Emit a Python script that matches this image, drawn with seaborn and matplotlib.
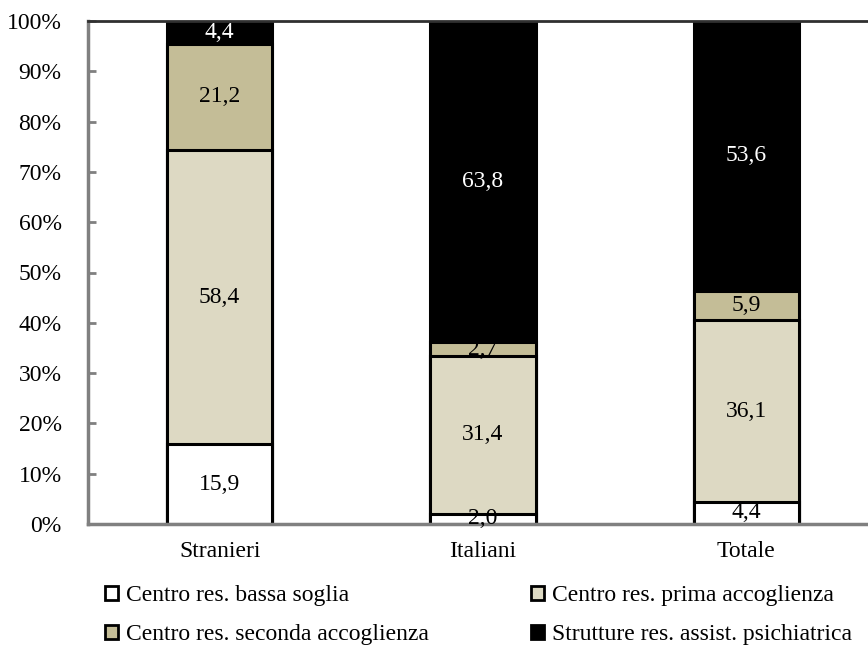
import numpy as np
import pandas as pd
import matplotlib.pyplot as plt
import seaborn as sns
from matplotlib.patches import Patch

# Values (percent shares)
groups = ["Stranieri", "Italiani", "Totale"]
series = [
    "Centro res. bassa soglia",
    "Centro res. prima accoglienza",
    "Centro res. seconda accoglienza",
    "Strutture res. assist. psichiatrica",
]
bassa_soglia = [15.9, 2.0, 4.4]
prima_accoglienza = [58.4, 31.4, 36.1]
seconda_accoglienza = [21.2, 2.7, 5.9]
psichiatrica = [4.4, 63.8, 53.6]
colors = ["#FFFFFF", "#DDD9C3", "#C4BD97", "#000000"]
text_colors = ["black", "black", "black", "white"]

sns.set_style("white")
plt.rcParams["font.family"] = ["Liberation Serif", "DejaVu Serif"]
plt.rcParams["text.color"] = "black"
plt.rcParams["xtick.color"] = "black"
plt.rcParams["ytick.color"] = "black"

df = pd.DataFrame({
    "group": groups,
    series[0]: bassa_soglia,
    series[1]: prima_accoglienza,
    series[2]: seconda_accoglienza,
    series[3]: psichiatrica,
})
values = df[series].to_numpy()
cum = values.cumsum(axis=1)

fig = plt.figure(figsize=(8.68, 6.46), dpi=100)
ax = fig.add_axes([88 / 868, 122 / 646, 790 / 868, 503 / 646])

# draw cumulative bars from top segment down so each layer covers the previous
for i in reversed(range(len(series))):
    plot_df = pd.DataFrame({"group": groups, "val": cum[:, i]})
    sns.barplot(data=plot_df, x="group", y="val", color=colors[i], width=0.4,
                edgecolor="black", linewidth=2.2, saturation=1, ax=ax)

# segment labels
for j in range(len(groups)):
    for i in range(len(series)):
        mid = cum[j, i] - values[j, i] / 2
        ax.text(j, mid, f"{values[j, i]:.1f}".replace(".", ","), ha="center", va="center",
                fontsize=17, color=text_colors[i])

ax.set_xlim(-0.5, 2.5)
ax.set_ylim(0, 100)
ax.set_yticks(np.arange(0, 101, 10))
ax.set_yticklabels([f"{v}%" for v in range(0, 101, 10)], fontsize=17)
ax.set_xlabel("")
ax.set_ylabel("")
ax.tick_params(axis="y", direction="in", length=6, width=2, color="#808080", pad=19, left=True)
ax.tick_params(axis="x", length=0, pad=12, labelsize=17)

for side in ["left", "bottom"]:
    ax.spines[side].set_color("#808080")
    ax.spines[side].set_linewidth(2.5)
ax.spines["top"].set_color("#303030")
ax.spines["top"].set_linewidth(2)
ax.spines["right"].set_visible(False)

handles = [Patch(facecolor=c, edgecolor="black", linewidth=2) for c in colors]
order = [0, 2, 1, 3]
fig.legend([handles[k] for k in order], [series[k] for k in order],
           ncol=2, loc="upper left", bbox_to_anchor=(105 / 868, 1 - 585 / 646),
           frameon=False, fontsize=17, handlelength=0.55, handleheight=0.55,
           handletextpad=0.32, columnspacing=4.35, labelspacing=0.78, borderpad=0,
           borderaxespad=0)

fig.savefig("out.png", dpi=100)
